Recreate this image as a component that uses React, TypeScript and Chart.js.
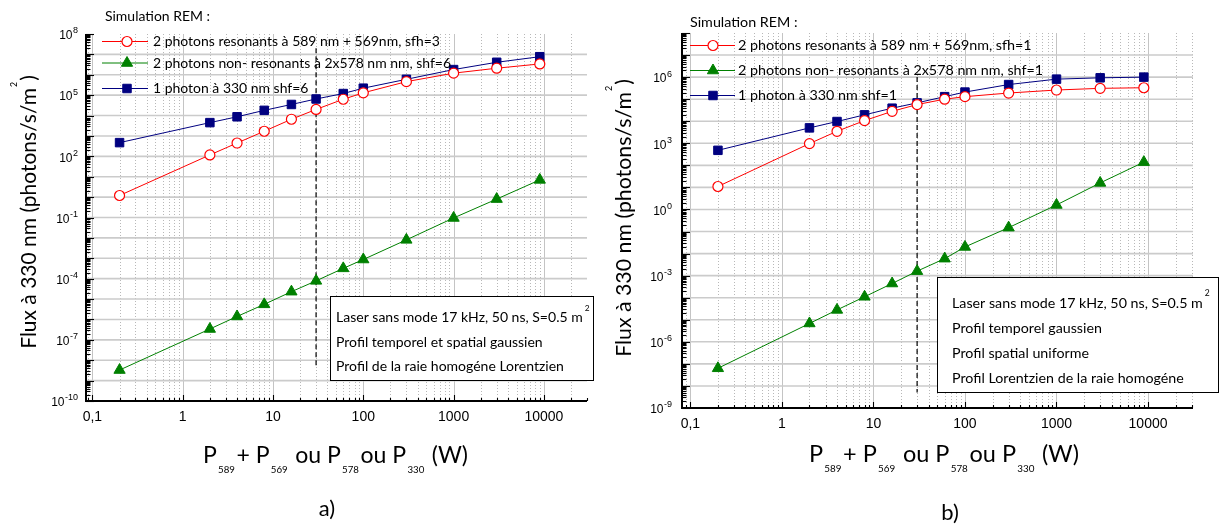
import React, { useEffect, useRef } from "react";
import { Chart, registerables } from "chart.js";

Chart.register(...registerables);

// ---------------- data ----------------
const powers = [0.2, 2, 4, 8, 16, 30, 60, 100, 300, 1000, 3000, 9000];

const resonantA = [1.2, 117, 450, 1700, 6600, 20000, 63000, 1.3e5, 4.6e5, 1.2e6, 2.1e6, 3.4e6];
const nonResonantA = [3.3e-9, 3.4e-7, 1.4e-6, 5.5e-6, 2.3e-5, 7.8e-5, 3.2e-4, 8.7e-4, 8e-3, 0.095, 0.8, 7];
const onePhotonA = [470, 4500, 8700, 18000, 35000, 65000, 1.2e5, 2.2e5, 6e5, 1.8e6, 4.1e6, 7.7e6];

const resonantB = [11, 970, 3500, 10700, 28000, 57000, 1e5, 1.3e5, 1.9e5, 2.6e5, 3.1e5, 3.3e5];
const nonResonantB = [6.3e-8, 6.8e-6, 2.8e-5, 1.1e-4, 4.4e-4, 1.6e-3, 5.9e-3, 0.02, 0.15, 1.6, 16, 140];
const onePhotonB = [480, 5000, 9700, 19500, 39000, 68000, 1.3e5, 2.1e5, 4.6e5, 8.1e5, 9.3e5, 1e6];

const dashX = [30, 30];
const dashYA = [2e7, 5e-9];
const dashYB = [1e6, 5e-9];

const legendTitle = "Simulation REM :";
const legendA = [
  "2 photons resonants à 589 nm + 569nm, sfh=3",
  "2 photons non- resonants à 2x578 nm nm, shf=6",
  "1 photon à 330 nm shf=6",
];
const legendB = [
  "2 photons resonants à 589 nm + 569nm, sfh=1",
  "2 photons non- resonants à 2x578 nm nm, shf=1",
  "1 photon à 330 nm shf=1",
];

const noteA = [
  "Laser sans mode 17 kHz, 50 ns, S=0.5 m",
  "Profil temporel et spatial gaussien",
  "Profil de la raie homogéne Lorentzien",
];
const noteB = [
  "Laser sans mode 17 kHz, 50 ns, S=0.5 m",
  "Profil temporel gaussien",
  "Profil spatial uniforme",
  "Profil Lorentzien de la raie homogéne",
];
const noteSup = "2";

const xTickValues = [0.1, 1, 10, 100, 1000, 10000];
const xTickLabels = ["0,1", "1", "10", "100", "1000", "10000"];
const yTickExpA = [8, 5, 2, -1, -4, -7, -10];
const yTickExpB = [6, 3, 0, -3, -6, -9];

const yTitleMain = "Flux à 330 nm (photons/s/m";
const yTitleSup = "2";
const yTitleClose = ")";
const xTitleParts: [string, boolean][] = [
  ["P", false], ["589", true], ["+ P", false], ["569", true], [" ou P", false],
  ["578", true], ["ou P", false], ["330", true], [" (W)", false],
];

// ---------------- styles ----------------
const TF = "Lato, 'DejaVu Sans', sans-serif";
const NF = "'Liberation Sans', Arial, sans-serif";
const RED = "#ff0000";
const GREEN = "#008000";
const NAVY = "#000080";

type PanelCfg = {
  id: string;
  width: number;
  height: number;
  pad: { left: number; right: number; top: number; bottom: number };
  xMin: number; xMax: number; yMin: number; yMax: number;
  resonant: number[]; nonResonant: number[]; onePhoton: number[];
  labels: string[]; dashY: number[]; yTickExp: number[]; yLabelGap: number;
  legend: { titleX: number; titleY: number; lineX0: number; lineX1: number; markerX: number; textX: number; rows: number[]; width: number };
  note: { x: number; y: number; w: number; h: number; textX: number; rows: number[]; lines: string[]; width: number; supDy: number };
  yTitle: { cx: number; cy: number; len: number };
  xTitle: { cx: number; baseline: number; width: number };
  tag: { text: string; x: number; y: number };
};

const panelA: PanelCfg = {
  id: "a", width: 610, height: 526,
  pad: { left: 86, right: 23, top: 34, bottom: 125 },
  xMin: 0.085, xMax: 30000, yMin: 1e-10, yMax: 1e8,
  resonant: resonantA, nonResonant: nonResonantA, onePhoton: onePhotonA,
  labels: legendA, dashY: dashYA, yTickExp: yTickExpA, yLabelGap: 8,
  legend: { titleX: 105, titleY: 16, lineX0: 102, lineX1: 148, markerX: 127, textX: 153, rows: [41.5, 63, 88.5], width: 287 },
  note: { x: 330, y: 296, w: 263, h: 84, textX: 336, rows: [317, 342, 366], lines: noteA, width: 247, supDy: -9 },
  yTitle: { cx: 28.5, cy: 212, len: 261 },
  xTitle: { cx: 335.5, baseline: 463, width: 265 },
  tag: { text: "a)", x: 327, y: 509 },
};

// panel b canvas starts at x=600 (offset 10 into the gap)
const panelB: PanelCfg = {
  id: "b", width: 621, height: 526,
  pad: { left: 82, right: 28, top: 33, bottom: 118 },
  xMin: 0.081, xMax: 31000, yMin: 1e-9, yMax: 1e8,
  resonant: resonantB, nonResonant: nonResonantB, onePhoton: onePhotonB,
  labels: legendB, dashY: dashYB, yTickExp: yTickExpB, yLabelGap: 10,
  legend: { titleX: 90, titleY: 22, lineX0: 90, lineX1: 135, markerX: 113, textX: 138, rows: [45.5, 70.5, 95.5], width: 294 },
  note: { x: 337, y: 277, w: 281, h: 115, textX: 352, rows: [303, 328, 353, 378], lines: noteB, width: 251, supDy: -10 },
  yTitle: { cx: 23, cy: 218, len: 265 },
  xTitle: { cx: 344, baseline: 462, width: 270 },
  tag: { text: "b)", x: 350, y: 513 },
};

// ---------------- helpers ----------------
function fitSize(ctx: CanvasRenderingContext2D, text: string, family: string, target: number) {
  ctx.font = `100px ${family}`;
  const w = ctx.measureText(text).width;
  return (100 * target) / w;
}

function drawMarker(ctx: CanvasRenderingContext2D, style: string, x: number, y: number, r: number, fill: string, stroke: string, lw: number) {
  ctx.save();
  ctx.beginPath();
  ctx.setLineDash([]);
  if (style === "circle") {
    ctx.arc(x, y, r, 0, Math.PI * 2);
  } else if (style === "triangle") {
    ctx.moveTo(x, y - r);
    ctx.lineTo(x + 0.866 * r, y + 0.5 * r);
    ctx.lineTo(x - 0.866 * r, y + 0.5 * r);
    ctx.closePath();
  } else {
    const s = Math.SQRT1_2 * r;
    ctx.rect(x - s, y - s, 2 * s, 2 * s);
  }
  ctx.fillStyle = fill;
  ctx.fill();
  ctx.lineWidth = lw;
  ctx.strokeStyle = stroke;
  ctx.stroke();
  ctx.restore();
}

function logRange(min: number, max: number, cb: (v: number, m: number, e: number) => void) {
  const e0 = Math.floor(Math.log10(min));
  const e1 = Math.ceil(Math.log10(max));
  for (let e = e0; e <= e1; e++) {
    for (let m = 1; m <= 9; m++) {
      const v = m * Math.pow(10, e);
      if (v < min * 0.9999 || v > max * 1.0001) continue;
      cb(v, m, e);
    }
  }
}

function makePlugin(p: PanelCfg) {
  return {
    id: "custom_" + p.id,
    beforeDatasetsDraw(chart: any) {
      const { ctx, chartArea: ca } = chart;
      const xs = chart.scales.x;
      const ys = chart.scales.y;
      ctx.save();
      // vertical grid
      logRange(p.xMin, p.xMax, (v, m) => {
        if (v <= p.xMin * 1.001 || v >= p.xMax * 0.999) return;
        const px = Math.round(xs.getPixelForValue(v)) + 0.5;
        ctx.beginPath();
        if (m === 1) {
          ctx.setLineDash([]);
          ctx.strokeStyle = "#c4c4c4";
        } else {
          ctx.setLineDash([1, 2]);
          ctx.strokeStyle = "#b8b8b8";
        }
        ctx.lineWidth = 1;
        ctx.moveTo(px, ca.top);
        ctx.lineTo(px, ca.bottom);
        ctx.stroke();
      });
      // horizontal grid (decades)
      ctx.setLineDash([]);
      ctx.strokeStyle = "#cbcbcb";
      ctx.lineWidth = 1.6;
      logRange(p.yMin, p.yMax, (v, m) => {
        if (m !== 1) return;
        if (v <= p.yMin * 1.001 || v >= p.yMax * 0.999) return;
        const py = ys.getPixelForValue(v);
        ctx.beginPath();
        ctx.moveTo(ca.left, py);
        ctx.lineTo(ca.right, py);
        ctx.stroke();
      });
      ctx.restore();
    },
    afterDatasetsDraw(chart: any) {
      const { ctx, chartArea: ca } = chart;
      const xs = chart.scales.x;
      const ys = chart.scales.y;
      ctx.save();
      ctx.setLineDash([]);
      ctx.strokeStyle = "#000";
      // ticks
      ctx.lineWidth = 1.1;
      logRange(p.yMin, p.yMax, (v, m) => {
        const py = Math.round(ys.getPixelForValue(v)) + 0.5;
        ctx.beginPath();
        ctx.moveTo(ca.left, py);
        ctx.lineTo(ca.left + (m === 1 ? 8 : 4.5), py);
        ctx.stroke();
      });
      logRange(p.xMin, p.xMax, (v, m) => {
        const px = Math.round(xs.getPixelForValue(v)) + 0.5;
        ctx.beginPath();
        ctx.moveTo(px, ca.bottom);
        ctx.lineTo(px, ca.bottom - (m === 1 ? 6 : 3));
        ctx.stroke();
      });
      // axis lines
      ctx.lineWidth = 2;
      ctx.beginPath();
      ctx.moveTo(ca.left, ca.top);
      ctx.lineTo(ca.left, ca.bottom);
      ctx.lineTo(ca.right, ca.bottom);
      ctx.stroke();

      // x tick labels
      ctx.fillStyle = "#000";
      ctx.font = `14px ${NF}`;
      ctx.textAlign = "center";
      ctx.textBaseline = "middle";
      xTickValues.forEach((v, i) => {
        ctx.fillText(xTickLabels[i], xs.getPixelForValue(v), ca.bottom + 16);
      });
      // y tick labels
      ctx.textAlign = "left";
      p.yTickExp.forEach((e) => {
        const py = ys.getPixelForValue(Math.pow(10, e));
        const expStr = e < 0 ? "-" + Math.abs(e) : String(e);
        ctx.font = `12px ${NF}`;
        const w1 = ctx.measureText("10").width;
        ctx.font = `9px ${NF}`;
        const w2 = ctx.measureText(expStr).width;
        const x0 = ca.left - p.yLabelGap - (w1 + w2 + 0.5);
        ctx.font = `12px ${NF}`;
        ctx.fillText("10", x0, py + 2);
        ctx.font = `9px ${NF}`;
        ctx.fillText(expStr, x0 + w1 + 0.5, py - 3);
      });

      // legend
      const L = p.legend;
      const lf = fitSize(ctx, p.labels[0], TF, L.width);
      ctx.font = `${lf}px ${TF}`;
      ctx.textBaseline = "middle";
      ctx.textAlign = "left";
      ctx.fillStyle = "#000";
      ctx.fillText(legendTitle, L.titleX, L.titleY);
      chart.data.datasets.forEach((ds: any, i: number) => {
        if (i >= p.labels.length) return;
        const y = L.rows[i];
        ctx.strokeStyle = ds.borderColor;
        ctx.lineWidth = 1;
        ctx.beginPath();
        ctx.moveTo(L.lineX0, y);
        ctx.lineTo(L.lineX1, y);
        ctx.stroke();
        drawMarker(ctx, ds.pointStyle, L.markerX, y, ds.pointRadius, ds.pointBackgroundColor, ds.pointBorderColor, ds.pointBorderWidth);
        ctx.fillStyle = "#000";
        ctx.font = `${lf}px ${TF}`;
        ctx.fillText(ds.label, L.textX, y);
      });

      // note box
      const N = p.note;
      ctx.fillStyle = "#fff";
      ctx.fillRect(N.x, N.y, N.w, N.h);
      ctx.strokeStyle = "#000";
      ctx.lineWidth = 1;
      ctx.strokeRect(N.x + 0.5, N.y + 0.5, N.w, N.h);
      const nf = fitSize(ctx, N.lines[0], TF, N.width);
      ctx.fillStyle = "#000";
      N.lines.forEach((t, i) => {
        ctx.font = `${nf}px ${TF}`;
        ctx.fillText(t, N.textX, N.rows[i]);
        if (i === 0) {
          const w = ctx.measureText(t).width;
          ctx.font = `${nf * 0.6}px ${TF}`;
          ctx.fillText(noteSup, N.textX + w + 2, N.rows[i] + N.supDy);
        }
      });

      // x title
      const X = p.xTitle;
      let unit = 0;
      const widths: number[] = [];
      xTitleParts.forEach(([t, sub]) => {
        ctx.font = `${sub ? 42 : 100}px ${TF}`;
        const w = ctx.measureText(t).width + (sub ? 12 : 0);
        widths.push(w);
        unit += w;
      });
      const F = (100 * X.width) / unit;
      const k = F / 100;
      let xx = X.cx - X.width / 2;
      ctx.textBaseline = "alphabetic";
      xTitleParts.forEach(([t, sub], i) => {
        if (sub) {
          ctx.font = `${F * 0.42}px ${TF}`;
          ctx.fillText(t, xx + 5 * k, X.baseline + F * 0.42);
        } else {
          ctx.font = `${F}px ${TF}`;
          ctx.fillText(t, xx, X.baseline);
        }
        xx += widths[i] * k;
      });

      // y title
      const Y = p.yTitle;
      const yf = fitSize(ctx, yTitleMain, TF, Y.len);
      ctx.font = `${yf}px ${TF}`;
      const wm = ctx.measureText(yTitleMain).width;
      const wc = ctx.measureText(yTitleClose).width;
      ctx.font = `${yf * 0.42}px ${TF}`;
      const ws = ctx.measureText(yTitleSup).width;
      const total = wm + ws + 2 + wc;
      ctx.save();
      ctx.translate(Y.cx, Y.cy);
      ctx.rotate(-Math.PI / 2);
      ctx.textBaseline = "alphabetic";
      const base = yf * 0.36;
      const x0 = -total / 2;
      ctx.font = `${yf}px ${TF}`;
      ctx.fillText(yTitleMain, x0, base);
      ctx.font = `${yf * 0.42}px ${TF}`;
      ctx.fillText(yTitleSup, x0 + wm + 1, -yf * 0.68 + yf * 0.15);
      ctx.font = `${yf}px ${TF}`;
      ctx.fillText(yTitleClose, x0 + wm + ws + 2, base);
      ctx.restore();

      // panel tag
      ctx.font = `22px ${TF}`;
      ctx.textAlign = "center";
      ctx.textBaseline = "middle";
      ctx.fillText(p.tag.text, p.tag.x, p.tag.y);
      ctx.restore();
    },
  };
}

function Panel({ cfg, left }: { cfg: PanelCfg; left: number }) {
  const ref = useRef<HTMLCanvasElement | null>(null);
  useEffect(() => {
    if (!ref.current) return;
    const pts = (ys: number[], xsArr: number[] = powers) => xsArr.map((x, i) => ({ x, y: ys[i] }));
    const chart = new Chart(ref.current, {
      type: "line",
      data: {
        datasets: [
          {
            label: cfg.labels[0], data: pts(cfg.resonant), borderColor: RED, borderWidth: 1,
            pointStyle: "circle", pointRadius: 5, pointBackgroundColor: "#ffffff", pointBorderColor: RED, pointBorderWidth: 1.2,
          },
          {
            label: cfg.labels[1], data: pts(cfg.nonResonant), borderColor: GREEN, borderWidth: 1,
            pointStyle: "triangle", pointRadius: 6.5, pointBackgroundColor: GREEN, pointBorderColor: GREEN, pointBorderWidth: 1,
          },
          {
            label: cfg.labels[2], data: pts(cfg.onePhoton), borderColor: NAVY, borderWidth: 1,
            pointStyle: "rect", pointRadius: 6, pointBackgroundColor: NAVY, pointBorderColor: NAVY, pointBorderWidth: 1,
          },
          {
            label: "", data: pts(cfg.dashY, dashX), borderColor: "#000", borderWidth: 1.2, borderDash: [5, 3],
            pointRadius: 0,
          },
        ] as any,
      },
      options: {
        animation: false,
        responsive: false,
        devicePixelRatio: 1,
        layout: { padding: cfg.pad },
        scales: {
          x: { type: "logarithmic", min: cfg.xMin, max: cfg.xMax, display: false, bounds: "data" },
          y: { type: "logarithmic", min: cfg.yMin, max: cfg.yMax, display: false, bounds: "data" },
        },
        plugins: { legend: { display: false }, tooltip: { enabled: false } },
      } as any,
      plugins: [makePlugin(cfg) as any],
    });
    return () => chart.destroy();
  }, [cfg]);
  return (
    <canvas
      ref={ref}
      width={cfg.width}
      height={cfg.height}
      style={{ position: "absolute", left, top: 0, width: cfg.width, height: cfg.height }}
    />
  );
}

export default function App() {
  useEffect(() => {
    document.body.style.margin = "0";
  }, []);
  return (
    <div style={{ position: "absolute", left: 0, top: 0, width: 1221, height: 526, background: "#fff", overflow: "hidden" }}>
      <Panel cfg={panelA} left={0} />
      <Panel cfg={panelB} left={600} />
    </div>
  );
}
